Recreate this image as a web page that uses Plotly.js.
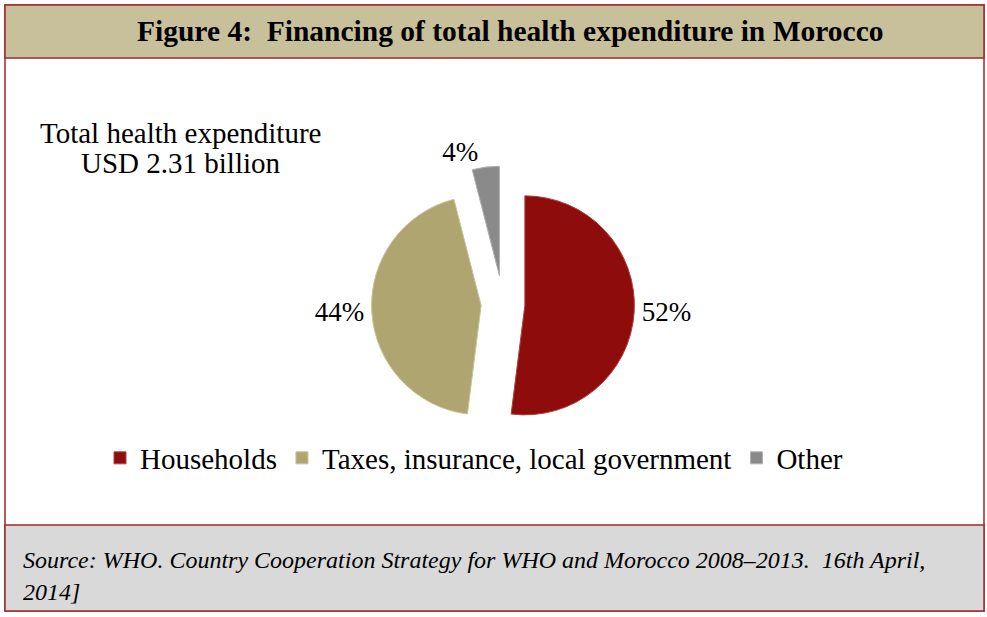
<!DOCTYPE html>
<html>
<head>
<meta charset="utf-8">
<script src="https://cdn.plot.ly/plotly-3.0.1.min.js"></script>
<style>html,body{margin:0;padding:0;background:#fff;}#chart{width:987px;height:617px;}</style>
</head>
<body>
<div id="chart"></div>
<script>
const categories = ["Households", "Taxes, insurance, local government", "Other"];
const shares = [52, 44, 4];
const sliceColors = ["#8E0C0C", "#AEA571", "#8A8A8A"];
const sliceLines = ["#B04040", "#C9C394", "#B0B0B0"];
const pulls = [0.2, 0.2, 0.26];
const titleText = "Figure 4:  Financing of total health expenditure in Morocco";
const totalLines = ["Total health expenditure", "USD 2.31 billion"];
const sourceLines = ["Source: WHO. Country Cooperation Strategy for WHO and Morocco 2008–2013.  16th April,", "2014]"];

const W = 987, H = 617;
const px = x => x / W;
const py = y => 1 - y / H;

const border = "#9E2A2A";
const serif = "Liberation Serif";

const trace = {
  type: "pie",
  labels: categories,
  values: shares,
  sort: false,
  direction: "clockwise",
  rotation: 0,
  pull: pulls,
  marker: {colors: sliceColors, line: {color: sliceLines, width: 1}},
  textinfo: "percent",
  textposition: "outside",
  texttemplate: "%{percent:.0%}",
  outsidetextfont: {family: serif, size: 27, color: "#000"},
  hoverinfo: "label+percent",
  domain: {x: [px(503 - 138), px(503 + 138)], y: [py(304 + 138), py(304 - 138)]},
  automargin: false
};

const layout = {
  width: W, height: H,
  margin: {l: 0, r: 0, t: 0, b: 0},
  paper_bgcolor: "#fff",
  showlegend: true,
  legend: {
    orientation: "h",
    x: px(100), xanchor: "left",
    y: py(458), yanchor: "middle",
    font: {family: serif, size: 29, color: "#000"},
    bgcolor: "rgba(0,0,0,0)",
    itemwidth: 30
  },
  font: {family: serif, color: "#000"},
  shapes: [
    {type: "rect", xref: "paper", yref: "paper", x0: px(5), x1: px(984), y0: py(611), y1: py(5), line: {color: border, width: 1.5}, fillcolor: "rgba(0,0,0,0)", layer: "below"},
    {type: "rect", xref: "paper", yref: "paper", x0: px(5), x1: px(984), y0: py(58), y1: py(5), line: {color: border, width: 1.5}, fillcolor: "#C8BF9B", layer: "below"},
    {type: "rect", xref: "paper", yref: "paper", x0: px(5), x1: px(984), y0: py(611), y1: py(525), line: {color: border, width: 1.5}, fillcolor: "#D9D9D9", layer: "below"}
  ],
  annotations: [
    {text: "<b>" + titleText + "</b>", xref: "paper", yref: "paper", x: px(510), y: py(31), xanchor: "center", yanchor: "middle", showarrow: false, font: {family: serif, size: 29.5, color: "#000"}},
    {text: totalLines[0], xref: "paper", yref: "paper", x: px(180), y: py(133), xanchor: "center", yanchor: "middle", showarrow: false, font: {family: serif, size: 29, color: "#000"}},
    {text: totalLines[1], xref: "paper", yref: "paper", x: px(180), y: py(163), xanchor: "center", yanchor: "middle", showarrow: false, font: {family: serif, size: 29, color: "#000"}},
    {text: "<i>" + sourceLines[0] + "</i>", xref: "paper", yref: "paper", x: px(21), y: py(560), xanchor: "left", yanchor: "middle", showarrow: false, font: {family: serif, size: 24, color: "#000"}},
    {text: "<i>" + sourceLines[1] + "</i>", xref: "paper", yref: "paper", x: px(21), y: py(592), xanchor: "left", yanchor: "middle", showarrow: false, font: {family: serif, size: 24, color: "#000"}}
  ]
};

Plotly.newPlot("chart", [trace], layout, {displayModeBar: false, staticPlot: true});
</script>
</body>
</html>
